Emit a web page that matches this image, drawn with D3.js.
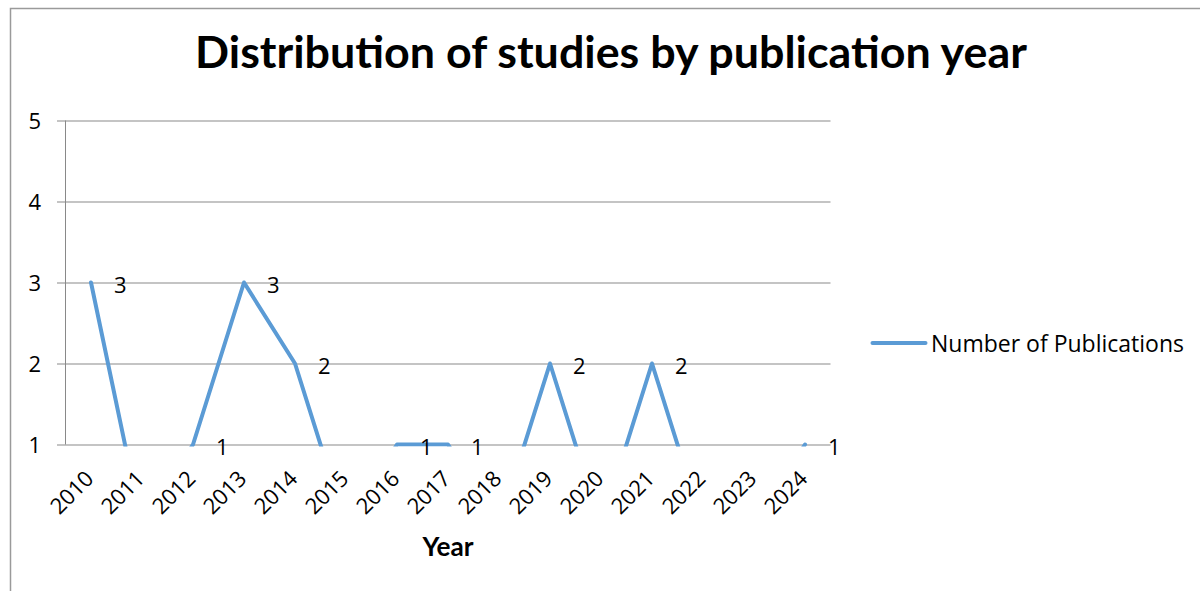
<!DOCTYPE html>
<html>
<head>
<meta charset="utf-8">
<script src="https://cdn.jsdelivr.net/npm/d3@7"></script>
<style>
  html, body { margin: 0; padding: 0; background: #fff; }
  svg { display: block; font-family: "Open Sans", Lato, sans-serif; }
  .heading { font-family: Lato, "Open Sans", sans-serif; }
</style>
</head>
<body>
<svg id="chart" width="1200" height="591"></svg>
<script>
// Publications per year
const years = ["2010", "2011", "2012", "2013", "2014", "2015", "2016", "2017",
               "2018", "2019", "2020", "2021", "2022", "2023", "2024"];
const publications = [3, 0, 1, 3, 2, 0, 1, 1, 0, 2, 0, 2, 0, 0, 1];
const yTicks = [1, 2, 3, 4, 5];
const yDomain = [1, 5];

const titleText = "Distribution of studies by publication year";
const xTitle = "Year";
const seriesName = "Number of Publications";

const lineColor = "#5B9BD5";
const gridColor = "#898989";

const svg = d3.select("#chart");

// plot area
const plot = { left: 65.5, right: 830.5, top: 120.5, bottom: 444.5 };

// shrink or grow a text's font size so it spans the given width
function fitWidth(sel, width) {
  const node = sel.node();
  const fs = parseFloat(sel.attr("font-size"));
  const w = node.getComputedTextLength();
  sel.attr("font-size", (fs * width / w).toFixed(2));
}

// chart frame
svg.append("rect")
  .attr("x", 10.5).attr("y", 8.5)
  .attr("width", 1260).attr("height", 640)
  .attr("fill", "none")
  .attr("stroke", "#9a9a9a")
  .attr("stroke-width", 1.5);

// title
const title = svg.append("text")
  .attr("class", "heading")
  .attr("x", 611).attr("y", 68)
  .attr("text-anchor", "middle")
  .attr("font-weight", "bold")
  .attr("font-size", 36)
  .attr("fill", "#000")
  .text(titleText);
fitWidth(title, 832);

const x = d3.scaleBand().domain(years).range([plot.left, plot.right]);
const cx = d => x(d) + x.bandwidth() / 2;
const y = d3.scaleLinear().domain(yDomain).range([plot.bottom, plot.top]);

// horizontal gridlines with left tick marks
const yAxis = svg.append("g")
  .attr("transform", `translate(${plot.left},0)`)
  .call(d3.axisLeft(y).tickValues(yTicks).tickFormat(d3.format("d"))
        .tickSize(-(plot.right - plot.left)).tickSizeOuter(0).tickPadding(0));
yAxis.attr("font-size", null).attr("font-family", null);
yAxis.select(".domain").remove();
yAxis.selectAll(".tick line")
  .attr("x1", -8.5)
  .attr("stroke", gridColor).attr("stroke-width", 1);
yAxis.selectAll(".tick text")
  .attr("x", -24.5)
  .attr("dy", "0.36em")
  .style("font-size", "22px")
  .attr("fill", "#000");

// vertical axis line
svg.append("line")
  .attr("x1", plot.left).attr("x2", plot.left)
  .attr("y1", plot.top).attr("y2", plot.bottom)
  .attr("stroke", gridColor).attr("stroke-width", 1);

// category labels, rotated
const xAxis = svg.append("g")
  .attr("transform", `translate(0,${plot.bottom})`)
  .call(d3.axisBottom(x).tickSize(0).tickSizeOuter(0));
xAxis.attr("font-size", null).attr("font-family", null);
xAxis.select(".domain").remove();
xAxis.selectAll(".tick text")
  .attr("text-anchor", "end")
  .attr("y", 0).attr("dy", 0)
  .attr("transform", "translate(4,35.5) rotate(-45)")
  .style("font-size", "22px")
  .attr("fill", "#000");

// axis title
const xt = svg.append("text")
  .attr("class", "heading")
  .attr("x", 448).attr("y", 556)
  .attr("text-anchor", "middle")
  .attr("font-weight", "bold")
  .attr("font-size", 26)
  .attr("fill", "#000")
  .text(xTitle);
fitWidth(xt, 51);

// series line, clipped to the plot area
svg.append("clipPath").attr("id", "plot-clip")
  .append("rect")
  .attr("x", plot.left).attr("y", plot.top - 5)
  .attr("width", plot.right - plot.left)
  .attr("height", plot.bottom - plot.top + 7);

const series = years.map((yr, i) => ({ year: yr, value: publications[i] }));

svg.append("path")
  .datum(series)
  .attr("clip-path", "url(#plot-clip)")
  .attr("fill", "none")
  .attr("stroke", lineColor)
  .attr("stroke-width", 4)
  .attr("stroke-linecap", "round")
  .attr("stroke-linejoin", "round")
  .attr("d", d3.line().x(d => cx(d.year)).y(d => y(d.value)));

// value labels for points inside the axis range
svg.append("g").selectAll("text")
  .data(series.filter(d => d.value >= yDomain[0] && d.value <= yDomain[1]))
  .join("text")
  .attr("x", d => cx(d.year) + 23)
  .attr("y", d => y(d.value) + 10)
  .attr("font-size", 22)
  .attr("fill", "#000")
  .text(d => d.value);

// legend
const legend = svg.append("g");
legend.append("line")
  .attr("x1", 872.5).attr("x2", 925.5)
  .attr("y1", 343).attr("y2", 343)
  .attr("stroke", lineColor)
  .attr("stroke-width", 4)
  .attr("stroke-linecap", "round");
const lt = legend.append("text")
  .attr("x", 931).attr("y", 351.5)
  .attr("font-size", 24)
  .attr("fill", "#000")
  .text(seriesName);
fitWidth(lt, 253);
</script>
</body>
</html>
